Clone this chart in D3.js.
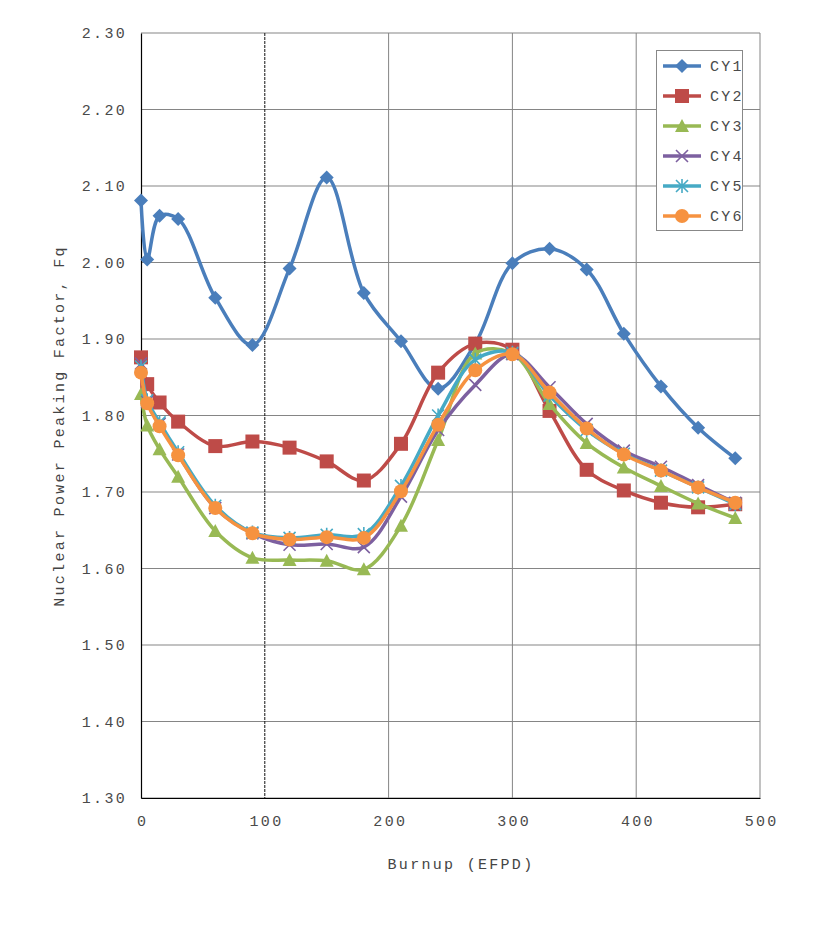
<!DOCTYPE html>
<html><head><meta charset="utf-8">
<script src="https://cdn.jsdelivr.net/npm/d3@7"></script>
<style>
body{margin:0;background:#fff;}
text{font-family:"Courier New","Liberation Mono",monospace;fill:#444;letter-spacing:2.3px;}
</style></head>
<body><svg id="c" width="824" height="936"></svg>
<script>
const burnup = [0, 5, 15, 30, 60, 90, 120, 150, 180, 210, 240, 270, 300, 330, 360, 390, 420, 450, 480];
const seriesNames = ["CY1","CY2","CY3","CY4","CY5","CY6"];
const cy1 = [2.081, 2.004, 2.061, 2.057, 1.954, 1.892, 1.992, 2.111, 1.960, 1.897, 1.835, 1.894, 1.999, 2.018, 1.991, 1.907, 1.838, 1.784, 1.744];
const cy2 = [1.876, 1.841, 1.817, 1.792, 1.760, 1.766, 1.758, 1.740, 1.715, 1.763, 1.856, 1.894, 1.886, 1.806, 1.729, 1.702, 1.686, 1.680, 1.684];
const cy3 = [1.828, 1.787, 1.756, 1.720, 1.649, 1.614, 1.611, 1.610, 1.599, 1.656, 1.768, 1.881, 1.881, 1.815, 1.764, 1.732, 1.708, 1.685, 1.666];
const cy4 = [1.868, 1.818, 1.789, 1.749, 1.679, 1.646, 1.631, 1.632, 1.628, 1.694, 1.781, 1.840, 1.880, 1.837, 1.789, 1.754, 1.733, 1.709, 1.686];
const cy5 = [1.864, 1.820, 1.791, 1.752, 1.682, 1.647, 1.640, 1.644, 1.645, 1.708, 1.800, 1.873, 1.882, 1.826, 1.781, 1.750, 1.728, 1.706, 1.684];
const cy6 = [1.856, 1.816, 1.786, 1.748, 1.679, 1.646, 1.638, 1.641, 1.640, 1.701, 1.788, 1.859, 1.880, 1.830, 1.783, 1.749, 1.728, 1.706, 1.686];
const xTicks = [0, 100, 200, 300, 400, 500];
const yTicks = [1.30, 1.40, 1.50, 1.60, 1.70, 1.80, 1.90, 2.00, 2.10, 2.20, 2.30];

const colors = ["#4A7EBB","#BE4B48","#98B954","#7D60A0","#46AAC5","#F69240"];
const markers = ["diamond","square","triangle","x","star","circle"];
const allVals = [cy1, cy2, cy3, cy4, cy5, cy6];

const svg = d3.select("#c");
const L = 141, R = 760, T = 33, B = 798;
const x = d3.scaleLinear().domain([0, 500]).range([L, R]);
const y = d3.scaleLinear().domain([1.30, 2.30]).range([B, T]);
const FONT = '"Courier New","Liberation Mono",monospace';

// grid
const g = svg.append("g");
g.selectAll(".hg").data(yTicks).enter().append("line")
  .attr("x1", L).attr("x2", R).attr("y1", d => y(d)).attr("y2", d => y(d))
  .attr("stroke", "#858585").attr("stroke-width", 1);
g.selectAll(".vg").data(xTicks.slice(1)).enter().append("line")
  .attr("y1", T).attr("y2", B).attr("x1", d => x(d)).attr("x2", d => x(d))
  .attr("stroke", d => d === 100 ? "#111" : "#858585")
  .attr("stroke-dasharray", d => d === 100 ? "3,1" : null)
  .attr("stroke-width", 1);

// axes
const xAxis = d3.axisBottom(x).tickValues(xTicks).tickSize(0).tickPadding(17).tickFormat(d3.format("d"));
const yAxis = d3.axisLeft(y).tickValues(yTicks).tickSize(0).tickPadding(14).tickFormat(d3.format(".2f"));
const gx = svg.append("g").attr("transform", `translate(0,${B})`).call(xAxis);
const gy = svg.append("g").attr("transform", `translate(${L},0)`).call(yAxis);
[gx, gy].forEach(a => {
  a.select(".domain").attr("stroke", "#000").attr("stroke-width", 1.2);
  a.selectAll("text").style("font-size", "15px").style("fill", "#4a4a4a")
    .style("font-family", FONT);
});
gx.selectAll("text").attr("dx", "1.2");

svg.append("text").attr("x", 461).attr("y", 869).attr("text-anchor", "middle")
  .style("font-size", "15px").text("Burnup (EFPD)");
svg.append("text").attr("transform", "translate(64,426) rotate(-90)").attr("text-anchor", "middle")
  .style("font-size", "15px").text("Nuclear Power Peaking Factor, Fq");

// plotting
const line = d3.line().x(d => x(d[0])).y(d => y(d[1])).curve(d3.curveCatmullRom.alpha(0.5));

function drawMarker(sel, type, color) {
  if (type === "diamond") {
    sel.append("path").attr("d", "M0,-7L7,0L0,7L-7,0Z").attr("fill", color);
  } else if (type === "square") {
    sel.append("rect").attr("x", -7).attr("y", -7).attr("width", 14).attr("height", 14).attr("fill", color);
  } else if (type === "triangle") {
    sel.append("path").attr("d", "M0,-7L7,6L-7,6Z").attr("fill", color);
  } else if (type === "x") {
    sel.append("path").attr("d", "M-6,-6L6,6M-6,6L6,-6").attr("stroke", color).attr("stroke-width", 1.6);
  } else if (type === "star") {
    sel.append("path").attr("d", "M-6,-6L6,6M-6,6L6,-6M0,-7L0,7").attr("stroke", color).attr("stroke-width", 1.6);
  } else {
    sel.append("circle").attr("r", 7).attr("fill", color);
  }
}

allVals.forEach((vals, i) => {
  const pts = burnup.map((b, j) => [b, vals[j]]);
  svg.append("path").datum(pts).attr("d", line).attr("fill", "none")
    .attr("stroke", colors[i]).attr("stroke-width", 3.5).attr("stroke-linejoin", "round");
  const mg = svg.append("g");
  pts.forEach(p => {
    const m = mg.append("g").attr("transform", `translate(${x(p[0])},${y(p[1])})`);
    drawMarker(m, markers[i], colors[i]);
  });
});

// legend
const lg = svg.append("g");
lg.append("rect").attr("x", 656.5).attr("y", 50.5).attr("width", 86).attr("height", 180)
  .attr("fill", "#fff").attr("stroke", "#888");
seriesNames.forEach((n, i) => {
  const yy = 66 + i * 30;
  const r = lg.append("g");
  r.append("line").attr("x1", 663).attr("x2", 701).attr("y1", yy).attr("y2", yy)
    .attr("stroke", colors[i]).attr("stroke-width", 3.5);
  const m = r.append("g").attr("transform", `translate(682,${yy})`);
  drawMarker(m, markers[i], colors[i]);
  r.append("text").attr("x", 710).attr("y", yy + 5).style("font-size", "15px").style("fill", "#4a4a4a").text(n);
});
</script></body></html>
